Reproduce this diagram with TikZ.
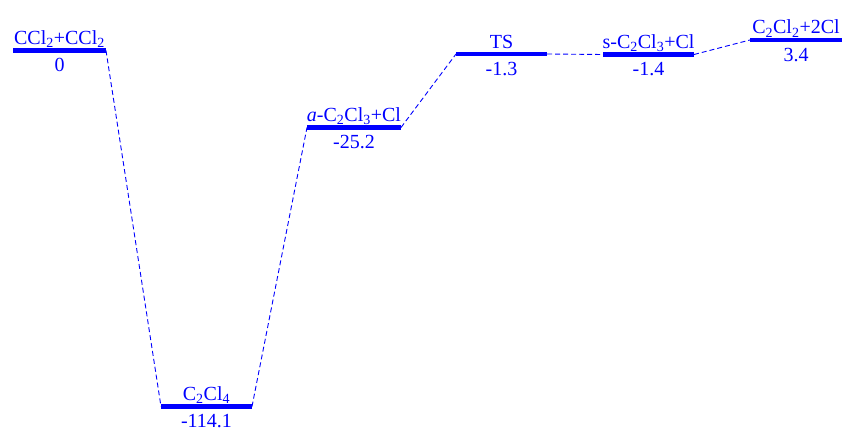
\documentclass[tikz,border=0pt]{standalone}
\usepackage{fontspec}
\setmainfont{Liberation Serif}
\begin{document}
\begin{tikzpicture}[x=1pt,y=-1pt,
  level/.style={draw=blue,line width=4.5pt},
  conn/.style={draw=blue,line width=0.9pt,dash pattern=on 5pt off 3pt},
  lab/.style={text=blue,font=\fontsize{20}{22}\selectfont,inner sep=0pt,anchor=base},
]
\useasboundingbox (0,0) rectangle (844,431);
% levels: left, right, y
\foreach \n/\xa/\xb/\y in {A/13/106/50.5, B/161/252/406.5, C/307/401/127.5, D/456/547/54, E/603/694/54.5, F/750/842/40}{
  \coordinate (\n l) at (\xa,\y);
  \coordinate (\n r) at (\xb,\y);
  \coordinate (\n c) at ({(\xa+\xb)/2},\y);
}
\foreach \n in {A,B,C,D,E,F}{ \draw[level] (\n l) -- (\n r); }
\draw[conn] (Ar) -- (Bl);
\draw[conn] (Br) -- (Cl);
\draw[conn] (Cr) -- (Dl);
\draw[conn] (Dr) -- (El);
\draw[conn] (Er) -- (Fl);
% labels
\node[lab] (tA) at ([yshift=6pt]Ac) {CCl\textsubscript{2}+CCl\textsubscript{2}};
\node[lab] (vA) at ([yshift=-21pt]Ac) {0};
\node[lab] (tB) at ([yshift=6pt]Bc) {C\textsubscript{2}Cl\textsubscript{4}};
\node[lab] (vB) at ([yshift=-21pt]Bc) {-114.1};
\node[lab] (tC) at ([yshift=6pt]Cc) {\textit{a}-C\textsubscript{2}Cl\textsubscript{3}+Cl};
\node[lab] (vC) at ([yshift=-21pt]Cc) {-25.2};
\node[lab] (tD) at ([yshift=6pt]Dc) {TS};
\node[lab] (vD) at ([yshift=-21pt]Dc) {-1.3};
\node[lab] (tE) at ([yshift=6pt]Ec) {s-C\textsubscript{2}Cl\textsubscript{3}+Cl};
\node[lab] (vE) at ([yshift=-21pt]Ec) {-1.4};
\node[lab] (tF) at ([yshift=6pt]Fc) {C\textsubscript{2}Cl\textsubscript{2}+2Cl};
\node[lab] (vF) at ([yshift=-21pt]Fc) {3.4};
\end{tikzpicture}
\end{document}
